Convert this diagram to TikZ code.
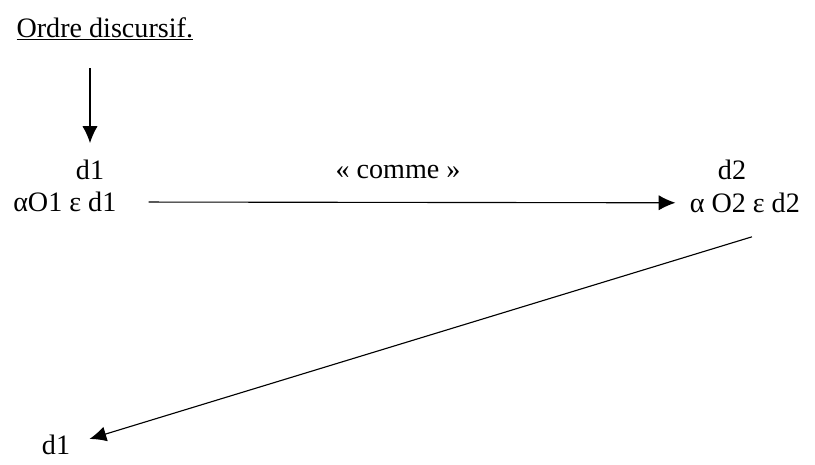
\documentclass[tikz,border=0pt]{standalone}
\usepackage{fontspec}
\setmainfont{Liberation Serif}
\usetikzlibrary{arrows.meta,positioning}

\begin{document}
\begin{tikzpicture}[>={Latex[length=0.42cm,width=0.38cm]}]

\tikzset{
  txt/.style={inner sep=0pt, font=\fontsize{20}{23}\selectfont},
  arrow/.style={->, line width=0.8pt}
}

\useasboundingbox (0,0) rectangle (20.375,-11.6);

% ==========================
% Labels
% ==========================
\node[txt] (title) at (2.62,-0.72) {\underline{Ordre discursif.}};
\node[txt] (d1top) at (2.25,-4.25) {d1};
\node[txt] (eq1) at (1.62,-5.05) {αO1 ε d1};
\node[txt] (comme) at (9.95,-4.3) {« comme »};
\node[txt] (d2) at (18.3,-4.25) {d2};
\node[txt] (eq2) at (18.62,-5.07) {α O2 ε d2};
\node[txt] (d1bot) at (1.4,-11.12) {d1};

\coordinate (start1) at (2.25,-1.7);
\coordinate (start2) at (18.8,-5.92);

% ==========================
% Arrows
% ==========================
\draw[arrow, shorten >=0.42cm] (start1) -- (d1top.north);
\draw[arrow, shorten <=0.8cm, shorten >=0.35cm] (eq1.east) -- (eq2.west);
\draw[arrow, shorten >=0.5cm] (start2) -- (d1bot.east);

\end{tikzpicture}
\end{document}
